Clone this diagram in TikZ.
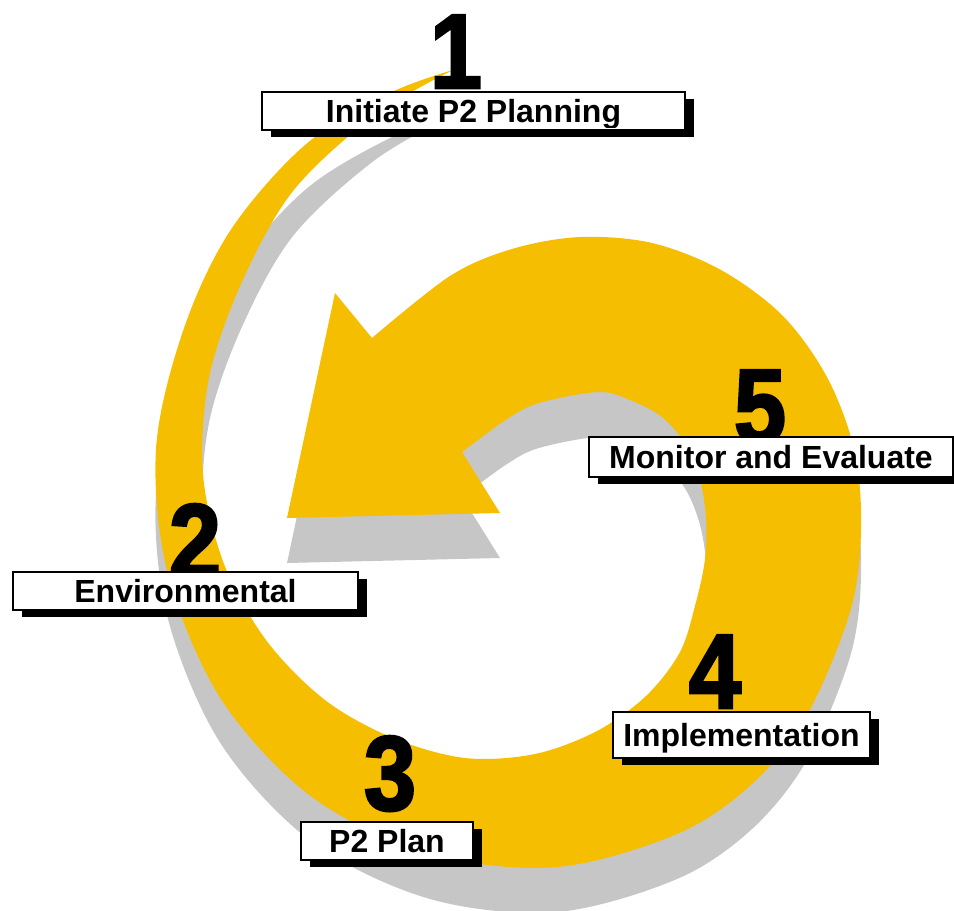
\documentclass[tikz,border=0pt]{standalone}
\usepackage{fontspec}
\setmainfont{Liberation Sans}
\newfontfamily\numeralfont[FakeBold=2.5,FakeStretch=0.88]{Liberation Sans}
\usetikzlibrary{shadows}

\definecolor{spiralgold}{RGB}{246,190,0}
\definecolor{spiralshade}{RGB}{198,198,198}

\begin{document}
\begin{tikzpicture}[
    x=1pt, y=-1pt,
    stagefont/.style={font=\bfseries\fontsize{32}{36}\selectfont, text height=22pt, text depth=0pt, inner sep=0pt},
    stage/.style={stagefont, rectangle, draw=black, line width=1.5pt, fill=white, minimum height=38pt,
                  drop shadow={shadow xshift=9pt, shadow yshift=-7pt, fill=black, opacity=1}},
    numeral/.style={anchor=base, inner sep=0pt, font=\numeralfont\bfseries\fontsize{106}{106}\selectfont}
]
    \useasboundingbox (0,0) rectangle (954,911);

    % Spiral band: grey copy dropped below first, gold band on top
    \foreach \drop/\tone in {45/spiralshade, 0/spiralgold}
        \fill[\tone, shift={(0,\drop)}]
            plot[smooth, tension=0.55] coordinates {
                (453,70) (390,93) (305,145) (230,231) (183,331) (156,449) (168,574)
                (221,699) (312,797) (430,854) (557,867) (677,834) (752,784) (807,715)
                (850,612) (861,532) (855,453) (828,379) (783,316) (721,270) (652,243)
                (580,237) (512,249) (450,276) (372,338)}
            -- (335,293) -- (287,518) -- (500,513)
            -- plot[smooth, tension=0.55] coordinates {
                (462,452) (507,419) (539,403) (598,392) (630,400) (662,417) (686,445)
                (700,480) (706,518) (705,559) (696,602) (680,652) (646,696) (597,731)
                (535,754) (465,758) (393,738) (325,700) (266,640) (224,564) (203,474)
                (209,378) (241,284) (293,191) (375,115) (453,70)}
            -- cycle;

    % Step numbers
    \node[numeral] (n1) at (456,88) {1};
    \node[numeral] (n2) at (195,578) {2};
    \node[numeral] (n3) at (390,810) {3};
    \node[numeral] (n4) at (715,708) {4};
    \node[numeral] (n5) at (760,443) {5};

    % Step 1
    \node[stage, minimum width=423pt] (initiate) at (473.5,111) {};
    \begin{scope}
        \clip (initiate.north west) rectangle ([yshift=3pt]initiate.south east);
        \node[stagefont] (initiatetext) at (initiate) {Initiate P2 Planning};
    \end{scope}
    % Step 2
    \node[stage, minimum width=345pt] (environ) at (185.5,591) {Environmental};
    % Step 3
    \node[stage, minimum width=172pt] (plan) at (387,841) {P2 Plan};
    % Step 4
    \node[stage, minimum width=257pt, minimum height=46pt] (implement) at (741.5,735) {Implementation};
    % Step 5
    \node[stage, minimum width=364pt, minimum height=40pt] (monitor) at (771,457) {Monitor and Evaluate};
\end{tikzpicture}
\end{document}
